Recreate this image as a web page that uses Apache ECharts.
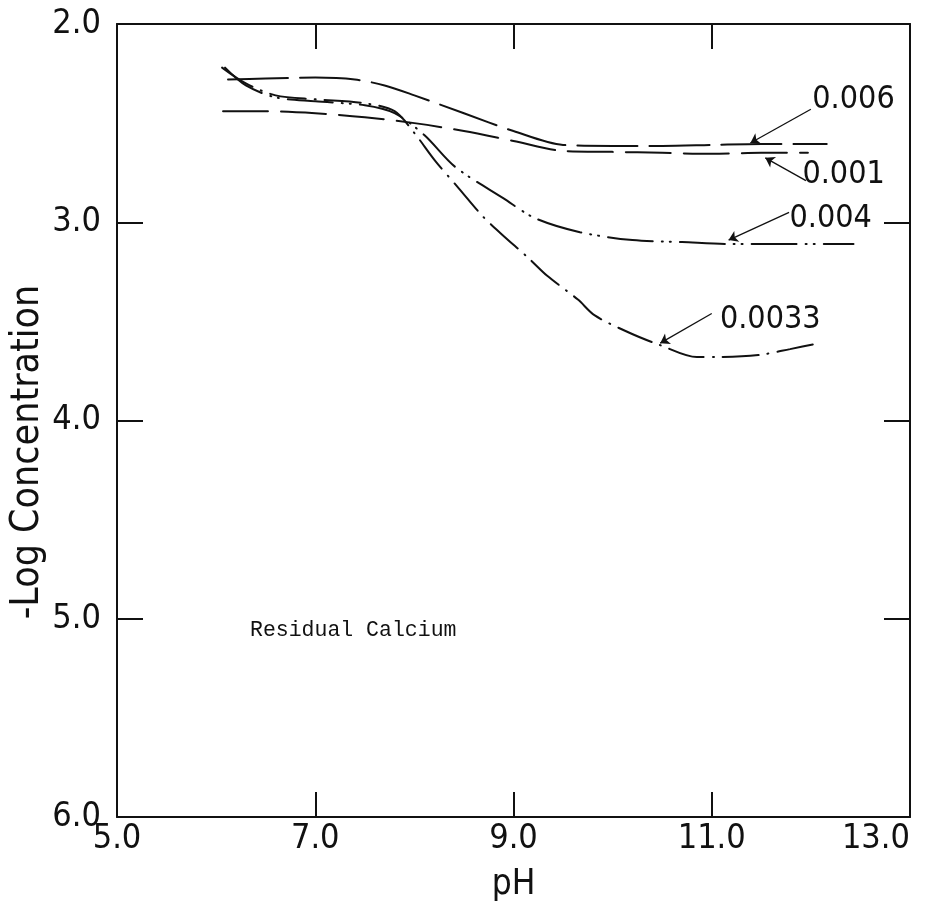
<!DOCTYPE html>
<html><head><meta charset="utf-8">
<script src="https://cdn.jsdelivr.net/npm/echarts@6/dist/echarts.min.js"></script>
<style>html,body{margin:0;padding:0;background:#fff;overflow:hidden}#c{width:929px;height:905px}</style>
</head><body><div id="c"></div>
<script>
// ---- data (pH, -log concentration) ----
const seriesNames = ['0.006', '0.001', '0.004', '0.0033'];

const ph_006 = [6.12, 6.5, 7.0, 7.4, 7.7, 8.0, 8.5, 9.0, 9.5, 10.0, 10.5, 11.0, 11.5, 12.16];
const lc_006 = [2.28, 2.275, 2.27, 2.28, 2.31, 2.36, 2.45, 2.54, 2.61, 2.615, 2.615, 2.61, 2.605, 2.605];

const ph_001 = [6.07, 6.5, 7.0, 7.5, 8.0, 8.5, 9.0, 9.5, 10.0, 10.5, 11.0, 11.5, 11.97];
const lc_001 = [2.44, 2.44, 2.45, 2.47, 2.5, 2.54, 2.59, 2.64, 2.645, 2.65, 2.655, 2.65, 2.65];

const ph_004 = [6.09, 6.3, 6.6, 7.0, 7.5, 7.8, 8.1, 8.41, 8.9, 9.22, 9.67, 10.2, 10.7, 11.2, 11.8, 12.43];
const lc_004 = [2.22, 2.31, 2.37, 2.39, 2.41, 2.45, 2.56, 2.72, 2.88, 2.98, 3.05, 3.09, 3.1, 3.11, 3.11, 3.11];

const ph_0033 = [6.06, 6.3, 6.6, 7.0, 7.5, 7.8, 8.0, 8.21, 8.45, 8.69, 8.88, 9.15, 9.34, 9.65, 9.82, 10.18, 10.48, 10.85, 11.06, 11.47, 11.79, 12.08];
const lc_0033 = [2.22, 2.3, 2.36, 2.38, 2.4, 2.44, 2.55, 2.69, 2.83, 2.97, 3.06, 3.18, 3.27, 3.39, 3.47, 3.56, 3.62, 3.68, 3.68, 3.67, 3.64, 3.61];

const xTickLabels = ['5.0', '7.0', '9.0', '11.0', '13.0'];
const yTickLabels = ['2.0', '3.0', '4.0', '5.0', '6.0'];

// annotation: label anchor [pH, value], arrow from -> to
const labelAt   = [[12.43, 2.38], [12.33, 2.76], [12.2, 2.98], [11.59, 3.49]];
const arrowFrom = [[12.0, 2.43], [11.95, 2.79], [11.78, 2.95], [11.0, 3.46]];
const arrowTo   = [[11.39, 2.6], [11.54, 2.675], [11.17, 3.09], [10.48, 3.61]];

const NUM_FONT = "'Liberation Sans Narrow','DejaVu Sans Condensed','Liberation Sans',sans-serif";

const dashes = [[60, 12], [45, 13], [45, 9, 1, 7, 1, 9], [36, 9, 1, 9]];
const phs = [ph_006, ph_001, ph_004, ph_0033];
const lcs = [lc_006, lc_001, lc_004, lc_0033];

const series = seriesNames.map((name, i) => ({
  name: name,
  type: 'line',
  xAxisIndex: 0, yAxisIndex: 0,
  data: phs[i].map((p, k) => [p, lcs[i][k]]),
  showSymbol: false,
  symbol: 'none',
  smooth: 0.3,
  lineStyle: { color: '#111', width: 2, type: dashes[i], cap: 'round' },
  markPoint: {
    symbol: 'circle', symbolSize: 0, silent: true,
    data: [{ coord: labelAt[i] }],
    label: { show: true, position: 'inside', formatter: name, color: '#111',
      fontFamily: NUM_FONT, fontSize: 32, fontWeight: 'normal' }
  },
  markLine: {
    silent: true, symbol: ['none', 'arrow'], symbolSize: 9,
    label: { show: false },
    lineStyle: { color: '#111', width: 1.3, type: 'solid' },
    data: [[{ coord: arrowFrom[i] }, { coord: arrowTo[i] }]]
  }
}));

const chart = echarts.init(document.getElementById('c'));
chart.setOption({
  animation: false,
  backgroundColor: '#fff',
  grid: { left: 117, right: 19, top: 24, bottom: 88, containLabel: false, outerBoundsMode: 'none' },
  xAxis: [{
    type: 'value', min: 5, max: 13, interval: 2, position: 'bottom',
    name: 'pH', nameLocation: 'middle', nameGap: 50,
    nameTextStyle: { fontFamily: NUM_FONT, fontSize: 35, color: '#111' },
    axisLine: { show: true, onZero: false, lineStyle: { color: '#111', width: 2 } },
    axisTick: { show: true, inside: true, length: 25, lineStyle: { color: '#111', width: 2 } },
    axisLabel: { fontFamily: NUM_FONT, fontSize: 34, color: '#111', margin: 5, alignMaxLabel: 'right',
      formatter: v => xTickLabels[Math.round((v - 5) / 2)] },
    splitLine: { show: false }
  }, {
    type: 'value', min: 5, max: 13, interval: 2, position: 'top',
    axisLine: { show: true, onZero: false, lineStyle: { color: '#111', width: 2 } },
    axisTick: { show: true, inside: true, length: 25, lineStyle: { color: '#111', width: 2 } },
    axisLabel: { show: false }, splitLine: { show: false }
  }],
  yAxis: [{
    type: 'value', min: 2, max: 6, interval: 1, inverse: true, position: 'left',
    axisLine: { show: true, onZero: false, lineStyle: { color: '#111', width: 2 } },
    axisTick: { show: true, inside: true, length: 26, lineStyle: { color: '#111', width: 2 } },
    axisLabel: { fontFamily: NUM_FONT, fontSize: 34, color: '#111', margin: 16,
      formatter: v => yTickLabels[Math.round(v - 2)] },
    splitLine: { show: false }
  }, {
    type: 'value', min: 2, max: 6, interval: 1, inverse: true, position: 'right',
    axisLine: { show: true, onZero: false, lineStyle: { color: '#111', width: 2 } },
    axisTick: { show: true, inside: true, length: 26, lineStyle: { color: '#111', width: 2 } },
    axisLabel: { show: false }, splitLine: { show: false }
  }],
  series: series,
  graphic: [{
    type: 'text', x: 28, y: 452, rotation: Math.PI / 2,
    style: { text: '-Log Concentration', fontFamily: NUM_FONT, fontSize: 39, fill: '#111',
      textAlign: 'center', textVerticalAlign: 'middle' }
  }, {
    type: 'text', x: 250, y: 630,
    style: { text: 'Residual Calcium', fontFamily: "'Liberation Mono','DejaVu Sans Mono',monospace",
      fontSize: 21.5, fill: '#111', textAlign: 'left', textVerticalAlign: 'middle' }
  }]
});
</script>
</body></html>
